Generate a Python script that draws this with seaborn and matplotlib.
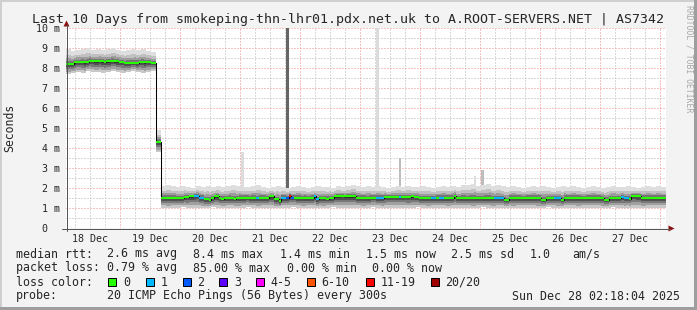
import numpy as np
import pandas as pd
import matplotlib
matplotlib.use("Agg")
import matplotlib.pyplot as plt
import seaborn as sns
from matplotlib.patches import Polygon, Rectangle
from matplotlib.lines import Line2D

# ----------------------------- data -----------------------------
title = "Last 10 Days from smokeping-thn-lhr01.pdx.net.uk to A.ROOT-SERVERS.NET | AS7342"
window_hours = 240
start_hour_of_day = 2.3   # graph window starts Dec 18 02:18
day_labels = ["18 Dec", "19 Dec", "20 Dec", "21 Dec", "22 Dec",
              "23 Dec", "24 Dec", "25 Dec", "26 Dec", "27 Dec"]
y_ticks = [0, 1, 2, 3, 4, 5, 6, 7, 8, 9, 10]
y_tick_labels = ["0  ", "1 m", "2 m", "3 m", "4 m", "5 m", "6 m", "7 m", "8 m", "9 m", "10 m"]

# hourly median RTT (ms)
median_ms = [
    8.22, 8.22, 8.22, 8.30, 8.32, 8.32, 8.32, 8.30, 8.32, 8.37, 8.37, 8.35,
    8.35, 8.37, 8.35, 8.32, 8.35, 8.35, 8.37, 8.35, 8.35, 8.32, 8.32, 8.27,
    8.27, 8.27, 8.27, 8.29, 8.27, 8.32, 8.32, 8.30, 8.32, 8.32, 8.28, 8.28,
    4.34, 4.34, 1.54, 1.54, 1.52, 1.54, 1.54, 1.54, 1.51, 1.51, 1.51, 1.57,
    1.57, 1.60, 1.60, 1.62, 1.62, 1.54, 1.54, 1.46, 1.46, 1.41, 1.51, 1.60,
    1.60, 1.51, 1.49, 1.51, 1.51, 1.54, 1.51, 1.49, 1.51, 1.54, 1.54, 1.54,
    1.54, 1.52, 1.54, 1.54, 1.51, 1.54, 1.54, 1.54, 1.54, 1.60, 1.60, 1.46,
    1.46, 1.38, 1.54, 1.54, 1.54, 1.62, 1.54, 1.54, 1.54, 1.54, 1.52, 1.54,
    1.54, 1.54, 1.54, 1.60, 1.46, 1.51, 1.51, 1.51, 1.49, 1.51, 1.51, 1.60,
    1.60, 1.60, 1.62, 1.60, 1.60, 1.60, 1.60, 1.60, 1.54, 1.54, 1.54, 1.54,
    1.52, 1.54, 1.54, 1.54, 1.54, 1.54, 1.54, 1.57, 1.57, 1.57, 1.57, 1.57,
    1.57, 1.57, 1.57, 1.57, 1.57, 1.57, 1.60, 1.57, 1.57, 1.51, 1.51, 1.51,
    1.51, 1.51, 1.54, 1.54, 1.54, 1.54, 1.54, 1.54, 1.54, 1.54, 1.54, 1.64,
    1.52, 1.52, 1.54, 1.52, 1.51, 1.52, 1.52, 1.54, 1.52, 1.52, 1.51, 1.52,
    1.52, 1.54, 1.52, 1.51, 1.51, 1.51, 1.51, 1.41, 1.41, 1.54, 1.54, 1.54,
    1.54, 1.54, 1.54, 1.54, 1.54, 1.54, 1.54, 1.54, 1.54, 1.54, 1.44, 1.44,
    1.51, 1.51, 1.51, 1.51, 1.51, 1.51, 1.41, 1.54, 1.54, 1.54, 1.54, 1.54,
    1.54, 1.54, 1.54, 1.54, 1.54, 1.54, 1.54, 1.54, 1.54, 1.54, 1.54, 1.44,
    1.44, 1.52, 1.52, 1.52, 1.52, 1.52, 1.57, 1.51, 1.51, 1.49, 1.62, 1.62,
    1.62, 1.62, 1.54, 1.54, 1.54, 1.54, 1.54, 1.54, 1.54, 1.54, 1.54, 1.54,
]

# hours with packet loss (pings lost out of 20)
loss_hours = [51, 52, 53, 54, 76, 86, 87, 88, 89, 90, 99, 100, 124, 125, 126, 133,
              146, 147, 149, 150, 171, 172, 173, 174, 195, 196, 197, 222, 223, 224]
loss_counts = [1, 1, 1, 1, 1, 1, 1, 2, 17, 2, 1, 1, 1, 1, 1, 1,
               1, 1, 1, 1, 1, 1, 1, 1, 1, 1, 1, 1, 1, 1]

# 2-hourly smoke extent (ms): highest / lowest of the 20 pings
smoke_hi_ms = [
    8.95, 8.85, 8.90, 8.95, 9.00, 8.90, 8.95, 8.90, 8.95, 9.00, 8.90, 8.85,
    8.90, 8.95, 8.90, 8.95, 8.85, 8.80, 4.90,
    2.10, 2.15, 2.10, 2.05, 2.10, 2.05, 2.00, 2.10, 2.05, 2.10, 2.05, 2.10,
    2.05, 2.10, 2.15, 2.10, 2.05, 2.05, 2.10, 2.15, 2.05, 2.00, 2.05, 2.10,
    2.05, 2.00, 2.05, 2.10, 2.05, 2.00, 2.05, 2.10, 2.05, 2.05, 2.00, 2.10,
    2.05, 2.10, 2.15, 2.10, 2.05, 2.10, 2.05, 2.10, 2.05, 2.00, 2.05, 2.10,
    2.05, 2.10, 2.05, 2.05, 2.10, 2.05, 2.00, 2.05, 2.10, 2.05, 2.10, 2.05,
    2.15, 2.15, 2.20, 2.10, 2.15, 2.20, 2.10, 2.15, 2.10, 2.05, 2.10, 2.05,
    2.00, 2.05, 2.10, 2.05, 2.10, 2.05, 2.00, 2.05, 2.10, 2.05, 2.10, 2.05,
    2.00, 2.05, 2.10, 2.05, 2.00, 2.05, 2.10, 2.05, 2.05, 2.10, 2.05, 2.00,
    2.05, 2.10, 2.05, 2.10, 2.05,
]
smoke_lo_ms = [
    7.70, 7.75, 7.80, 7.75, 7.85, 7.80, 7.80, 7.75, 7.80, 7.85, 7.80, 7.75,
    7.80, 7.85, 7.80, 7.75, 7.80, 7.85, 3.80,
    1.02, 1.00, 1.04, 1.02, 1.05, 1.00, 1.02, 1.04, 1.00, 1.02, 1.05, 1.02,
    1.00, 1.04, 1.02, 1.00, 1.03, 1.05, 1.02, 1.00, 1.02, 1.04, 1.02, 1.00,
    1.03, 1.02, 1.05, 1.02, 1.00, 1.02, 1.04, 1.02, 1.00, 1.03, 1.05, 1.02,
    1.00, 1.02, 1.04, 1.02, 1.00, 1.02, 1.05, 1.02, 1.00, 1.03, 1.02, 1.04,
    1.02, 1.00, 1.02, 1.05, 1.02, 1.00, 1.02, 1.04, 1.02, 1.00, 1.03, 1.02,
    1.04, 1.02, 1.00, 1.02, 1.05, 1.02, 1.00, 1.02, 1.04, 1.02, 1.00, 1.03,
    1.02, 1.04, 1.02, 1.00, 1.02, 1.05, 1.02, 1.00, 1.02, 1.04, 1.02, 1.00,
    1.03, 1.02, 1.04, 1.02, 1.00, 1.02, 1.05, 1.02, 1.00, 1.02, 1.04, 1.02,
    1.00, 1.03, 1.02, 1.04, 1.02,
]

# isolated slow pings standing above the smoke
outlier_hours = [70, 88, 124, 133, 163, 166]
outlier_top_ms = [3.8, 11.0, 11.0, 3.5, 2.6, 2.9]
outlier_pings = [1, 3, 1, 2, 1, 2]

loss_legend = ["0", "1", "2", "3", "4-5", "6-10", "11-19", "20/20"]
loss_colors = ["#26ff00", "#00b8ff", "#0059ff", "#5e00ff", "#ff00ff", "#ff5500", "#ff0000", "#a10000"]

rtt_stats = ["2.6 ms avg", "8.4 ms max", "1.4 ms min", "1.5 ms now", "2.5 ms sd", "1.0", "am/s"]
loss_stats = ["0.79 % avg", "85.00 % max", "0.00 % min", "0.00 % now"]
probe_text = "20 ICMP Echo Pings (56 Bytes) every 300s"
stamp_text = "Sun Dec 28 02:18:04 2025"

# ----------------------------- figure -----------------------------
W, H = 697, 310
sns.set_style("white")
plt.rcParams["font.family"] = ["DejaVu Sans Mono", "DejaVu Sans"]
MONO = "DejaVu Sans Mono"

fig = plt.figure(figsize=(W / 100, H / 100), dpi=100, facecolor="#f3f3f3")


def fx(px):
    return px / W


def fy(py):
    return 1 - py / H


ax = fig.add_axes([fx(66), fy(228.3), 600 / W, 200 / H])
ax.set_facecolor("white")
for s in ax.spines.values():
    s.set_visible(False)

med = np.asarray(median_ms, dtype=float)
hours = np.arange(len(med))
edges = np.arange(len(med) + 1)
hi = np.repeat(np.asarray(smoke_hi_ms, dtype=float), 2)
lo = np.repeat(np.asarray(smoke_lo_ms, dtype=float), 2)


def ext(a):
    return np.append(a, a[-1])


med_e, hi_e, lo_e = ext(med), ext(hi), ext(lo)

# grid (behind data)
day_starts = np.arange(24 - start_hour_of_day, window_hours, 24)
six_h = np.arange(6 - start_hour_of_day, window_hours, 6)
dot = (0, (1, 2))
minor_col, major_col = "#b4b4b4", "#f08888"
for v in six_h:
    if not np.any(np.isclose(v, day_starts)):
        ax.axvline(v, color=minor_col, lw=0.72, ls=dot, zorder=1)
for v in np.arange(0.5, 10, 1.0):
    ax.axhline(v, color=minor_col, lw=0.72, ls=dot, zorder=1)
for v in day_starts:
    ax.axvline(v, color=major_col, lw=0.72, ls=dot, zorder=1)
for v in y_ticks[1:]:
    ax.axhline(v, color=major_col, lw=0.72, ls=dot, zorder=1)

# smoke: graded bands from extremes toward the median
up_fracs = [1.0, 0.62, 0.38, 0.2, 0.07]
up_cols = ["#dedede", "#c0c0c0", "#9c9c9c", "#767676", "#505050"]
dn_fracs = [1.0, 0.75, 0.5, 0.3, 0.12]
dn_cols = ["#c8c8c8", "#a0a0a0", "#787878", "#515151", "#333333"]
for f, c in zip(up_fracs, up_cols):
    ax.fill_between(edges, med_e, med_e + f * (hi_e - med_e), step="post",
                    color=c, lw=0, zorder=2)
for f, c in zip(dn_fracs, dn_cols):
    ax.fill_between(edges, med_e - f * (med_e - lo_e), med_e, step="post",
                    color=c, lw=0, zorder=2)

# single outlier pings
shade = {1: "#dcdcdc", 2: "#bdbdbd", 3: "#666666"}
ob = np.array([hi[h] for h in outlier_hours])
ax.bar(outlier_hours, np.asarray(outlier_top_ms) - ob, bottom=ob, width=1.0,
       align="edge", color=[shade[p] for p in outlier_pings], linewidth=0, zorder=3)

# median line: black steps, coloured by loss
step_df = pd.DataFrame({"hour": edges, "median": med_e})
sns.lineplot(data=step_df, x="hour", y="median", drawstyle="steps-post",
             color="black", linewidth=0.75, estimator=None, ax=ax, zorder=4)


def bucket(n):
    if n <= 3:
        return n
    if n <= 5:
        return 4
    if n <= 10:
        return 5
    if n <= 19:
        return 6
    return 7


loss = np.zeros(len(med), dtype=int)
loss[np.asarray(loss_hours)] = loss_counts
seg_cols = [loss_colors[bucket(n)] for n in loss]
ax.hlines(med, hours, hours + 1, colors=seg_cols, linewidth=1.45, zorder=5,
          capstyle="butt")

ax.set_xlim(0, window_hours)
ax.set_ylim(0, 10)
ax.set_xlabel("")
ax.set_ylabel("")

# ticks
ax.set_yticks(y_ticks, y_tick_labels)
ax.tick_params(axis="y", which="major", length=1.5, width=0.72, color="#e07070",
               pad=3, labelsize=7.2)
ax.set_xticks(day_starts, [""] * len(day_starts))
noon = day_starts - 12
ax.set_xticks(noon, day_labels, minor=True)
ax.tick_params(axis="x", which="major", length=1.5, width=0.72, color="#e07070")
ax.tick_params(axis="x", which="minor", length=0, pad=4.1, labelsize=7.2)
for lab in ax.get_xticklabels(minor=True) + ax.get_yticklabels():
    lab.set_fontfamily(MONO)

# axes lines + arrows
axis_col = "#555555"
fig.add_artist(Line2D([fx(62), fx(670)], [fy(228.5), fy(228.5)], color=axis_col, lw=0.72))
fig.add_artist(Line2D([fx(66.5), fx(66.5)], [fy(231), fy(25)], color=axis_col, lw=0.72))
arrow_col = "#8a1010"
fig.add_artist(Polygon([[fx(66.5), fy(20.5)], [fx(63.5), fy(26.5)], [fx(69.5), fy(26.5)]],
                       closed=True, transform=fig.transFigure, color=arrow_col, lw=0))
fig.add_artist(Polygon([[fx(674.5), fy(228.5)], [fx(668.5), fy(225.5)], [fx(668.5), fy(231.5)]],
                       closed=True, transform=fig.transFigure, color=arrow_col, lw=0))

# frame bevel
fig.add_artist(Rectangle((0, fy(2)), 1, 2 / H, transform=fig.transFigure, color="#cfcfcf", lw=0))
fig.add_artist(Rectangle((0, 0), 2 / W, 1, transform=fig.transFigure, color="#cfcfcf", lw=0))
fig.add_artist(Rectangle((0, 0), 1, 3 / H, transform=fig.transFigure, color="#9e9e9e", lw=0))
fig.add_artist(Rectangle((fx(694), 0), 3 / W, 1, transform=fig.transFigure, color="#9e9e9e", lw=0))

# titles
fig.text(fx(347.5), fy(23.5), title, ha="center", va="baseline", fontsize=9.5, family=MONO)
fig.text(fx(10), fy(127.5), "Seconds", rotation=90, ha="center", va="center",
         fontsize=8.3, family=MONO)
fig.text(fx(688.5), fy(59), "RRDTOOL / TOBI OETIKER", rotation=270, ha="center",
         va="center", fontsize=5.9, family=MONO, color="#a8a8a8")

# legend block
LF = 8.33
rows_y = [257.5, 271.5, 285.5, 299.5]
fig.text(fx(16), fy(rows_y[0]), "median rtt:", fontsize=LF, family=MONO, va="baseline")
for s, x in zip(rtt_stats, [107.3, 193.3, 280, 365.7, 451, 530, 572]):
    fig.text(fx(x), fy(rows_y[0]), s, fontsize=LF, family=MONO, va="baseline")
fig.text(fx(16), fy(rows_y[1]), "packet loss:", fontsize=LF, family=MONO, va="baseline")
for s, x in zip(loss_stats, [107.3, 193.3, 286.7, 372.3]):
    fig.text(fx(x), fy(rows_y[1]), s, fontsize=LF, family=MONO, va="baseline")
fig.text(fx(16), fy(rows_y[2]), "loss color:", fontsize=LF, family=MONO, va="baseline")
sw_x = [108.3, 145.7, 182.7, 219.3, 256, 306.7, 365.7, 430.7]
for lab, col, x in zip(loss_legend, loss_colors, sw_x):
    fig.add_artist(Rectangle((fx(x), fy(286.3)), 8 / W, 8 / H, transform=fig.transFigure,
                             facecolor=col, edgecolor="black", lw=0.72))
    fig.text(fx(x + 14.7), fy(rows_y[2]), lab, fontsize=LF, family=MONO, va="baseline")
fig.text(fx(16), fy(rows_y[3]), "probe:", fontsize=LF, family=MONO, va="baseline")
fig.text(fx(107.3), fy(rows_y[3]), probe_text, fontsize=LF, family=MONO, va="baseline")
fig.text(fx(680), fy(rows_y[3]), stamp_text, fontsize=LF, family=MONO, va="baseline", ha="right")

fig.savefig("out.png", dpi=100, facecolor=fig.get_facecolor())
